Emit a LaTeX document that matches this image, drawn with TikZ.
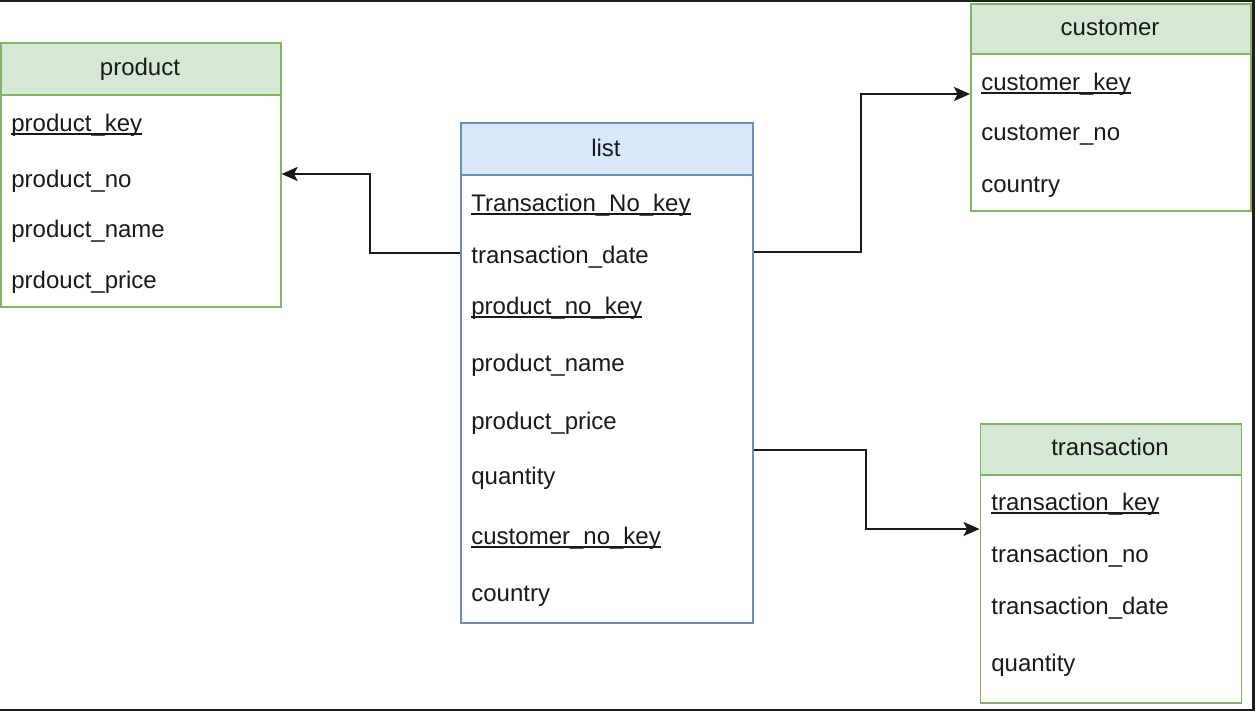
\documentclass[tikz,border=0pt]{standalone}
\usepackage{fontspec}
\setmainfont{Liberation Sans}
\usetikzlibrary{arrows.meta}
\definecolor{gfill}{HTML}{D5E8D4}
\definecolor{gline}{HTML}{82B366}
\definecolor{bfill}{HTML}{DAE8FC}
\definecolor{bline}{HTML}{6C8EBF}
\definecolor{txt}{HTML}{1A1A1A}
\definecolor{frame}{HTML}{1E1E1E}
\newcommand\keyu[1]{\setbox0=\hbox{#1}\rlap{\rule[-1.3pt]{\wd0}{0.6pt}}\box0}
\begin{document}
\begin{tikzpicture}[x=0.5pt,y=-0.5pt,
  gbox/.style={draw=gline,line width=0.8pt,fill=white,inner sep=0pt,anchor=north west},
  ghead/.style={draw=gline,line width=0.8pt,fill=gfill,inner sep=0pt,anchor=north west},
  bbox/.style={draw=bline,line width=0.8pt,fill=white,inner sep=0pt,anchor=north west},
  bhead/.style={draw=bline,line width=0.8pt,fill=bfill,inner sep=0pt,anchor=north west},
  field/.style={anchor=base west,inner sep=0pt,text=txt,font=\fontsize{12}{14}\selectfont},
  title/.style={anchor=base,inner sep=0pt,text=txt,font=\fontsize{12}{14}\selectfont},
  conn/.style={draw=txt,line width=1pt,-{Stealth[length=8pt,width=7pt,inset=1.8pt]}}]
\useasboundingbox (0,0) rectangle (1255,711);
\fill[white] (0,0) rectangle (1255,711);
% frame
\fill[frame] (0,0) rectangle (1255,2);
\fill[frame] (0,709) rectangle (1255,711);
\fill[frame] (1252,0) rectangle (1255,711);

% product
\node[gbox,minimum width=140pt,minimum height=132pt] (product) at (0,42) {};
\node[ghead,minimum width=140pt,minimum height=26pt] (producth) at (0,42) {};
\node[title] (productt) at (140,76) {product};
\node[field] (p1) at (11,132) {\keyu{product\_key}};
\node[field] (p2) at (11,188) {product\_no};
\node[field] (p3) at (11,238) {product\_name};
\node[field] (p4) at (11,289) {prdouct\_price};

% list
\node[bbox,minimum width=146pt,minimum height=250pt] (list) at (460,122) {};
\node[bhead,minimum width=146pt,minimum height=26pt] (listh) at (460,122) {};
\node[title] (listt) at (606,157) {list};
\node[field] (l1) at (471,212) {\keyu{Transaction\_No\_key}};
\node[field] (l2) at (471,264) {transaction\_date};
\node[field] (l3) at (471,315) {\keyu{product\_no\_key}};
\node[field] (l4) at (471,372) {product\_name};
\node[field] (l5) at (471,430) {product\_price};
\node[field] (l6) at (471,485) {quantity};
\node[field] (l7) at (471,545) {\keyu{customer\_no\_key}};
\node[field] (l8) at (471,602) {country};

% customer
\node[gbox,minimum width=140pt,minimum height=103.5pt] (customer) at (970,3) {};
\node[ghead,minimum width=140pt,minimum height=25pt] (customerh) at (970,3) {};
\node[title] (customert) at (1110,36) {customer};
\node[field] (c1) at (981,91) {\keyu{customer\_key}};
\node[field] (c2) at (981,141) {customer\_no};
\node[field] (c3) at (981,193) {country};

% transaction
\node[gbox,minimum width=130.5pt,minimum height=139.5pt] (transaction) at (979.5,423) {};
\node[ghead,minimum width=130.5pt,minimum height=25.5pt] (transactionh) at (979.5,423) {};
\node[title] (transactiont) at (1110,456) {transaction};
\node[field] (t1) at (991,511) {\keyu{transaction\_key}};
\node[field] (t2) at (991,563) {transaction\_no};
\node[field] (t3) at (991,615) {transaction\_date};
\node[field] (t4) at (991,671) {quantity};

% connectors
\coordinate (a1) at (0,253);
\coordinate (a2) at (0,174);
\draw[conn] (list.west |- a1) -- (370,253) -- (370,174) -- (product.east |- a2);
\coordinate (b1) at (0,252);
\coordinate (b2) at (0,94);
\draw[conn] (list.east |- b1) -- (861,252) -- (861,94) -- (customer.west |- b2);
\coordinate (c1p) at (0,450);
\coordinate (c2p) at (0,529);
\draw[conn] (list.east |- c1p) -- (866,450) -- (866,529) -- (transaction.west |- c2p);
\end{tikzpicture}
\end{document}
